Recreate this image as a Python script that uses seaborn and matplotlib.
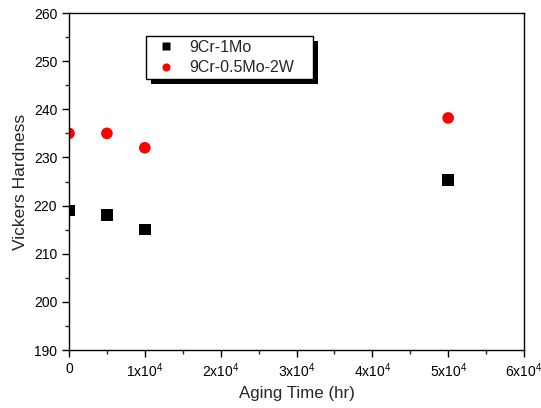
import pandas as pd
import numpy as np
import matplotlib
matplotlib.use("Agg")
import matplotlib.pyplot as plt
from matplotlib.ticker import MultipleLocator, FuncFormatter
from matplotlib.patches import Rectangle
import seaborn as sns

# values
aging_time = [0, 5000, 10000, 50000]
hv_9cr1mo = [219, 218, 215, 225.3]
hv_9cr05mo2w = [235, 235, 232, 238.2]
alloys = ["9Cr-1Mo", "9Cr-0.5Mo-2W"]

df = pd.DataFrame({
    "time": aging_time * 2,
    "hardness": hv_9cr1mo + hv_9cr05mo2w,
    "alloy": [alloys[0]] * 4 + [alloys[1]] * 4,
})

sns.set_style("ticks")
plt.rcParams["font.family"] = ["Liberation Sans", "DejaVu Sans"]
plt.rcParams["mathtext.fontset"] = "custom"
plt.rcParams["mathtext.rm"] = "Liberation Sans"
plt.rcParams["mathtext.it"] = "Liberation Sans"

fig, ax = plt.subplots(figsize=(5.41, 4.08), dpi=100)
fig.subplots_adjust(left=69/541, right=524/541, top=1-13/408, bottom=1-350/408)

sns.scatterplot(data=df, x="time", y="hardness", hue="alloy", style="alloy",
                palette={alloys[0]: "black", alloys[1]: "#ff0000"},
                markers={alloys[0]: "s", alloys[1]: "o"},
                s=70, edgecolor="none", ax=ax)

ax.set_xlim(0, 60000)
ax.set_ylim(190, 260)
ax.xaxis.set_major_locator(MultipleLocator(10000))
ax.xaxis.set_minor_locator(MultipleLocator(5000))
ax.yaxis.set_major_locator(MultipleLocator(10))
ax.yaxis.set_minor_locator(MultipleLocator(5))


def fmt(v, pos):
    k = int(round(v / 10000))
    return "0" if k == 0 else f"{k}x10$^{{4}}$"


ax.xaxis.set_major_formatter(FuncFormatter(fmt))
ax.tick_params(which="major", direction="out", length=5, width=1, labelsize=10, colors="black")
ax.tick_params(which="minor", direction="out", length=3, width=1)
for sp in ax.spines.values():
    sp.set_visible(True)
    sp.set_color("black")
    sp.set_linewidth(1)

ax.set_xlabel("Aging Time (hr)", fontsize=12.2)
ax.set_ylabel("Vickers Hardness", fontsize=12.5)

leg = ax.legend(loc="upper left", bbox_to_anchor=(0.169, 0.5, 0.367, 0.432), mode="expand",
                borderaxespad=0, fontsize=11.5, frameon=True, fancybox=False,
                edgecolor="black", framealpha=1, handletextpad=0.45, borderpad=0.25,
                labelspacing=0.33, handlelength=2.0, markerscale=0.7)
leg.get_frame().set_linewidth(1)

# solid black drop shadow behind the legend box
fig.canvas.draw()
bb = leg.get_window_extent()
ax.add_patch(Rectangle((bb.x0 + 5, bb.y0 - 5), bb.width, bb.height, transform=None,
                       facecolor="black", edgecolor="none", clip_on=False, zorder=4.9))

fig.savefig("out.png", dpi=100)
